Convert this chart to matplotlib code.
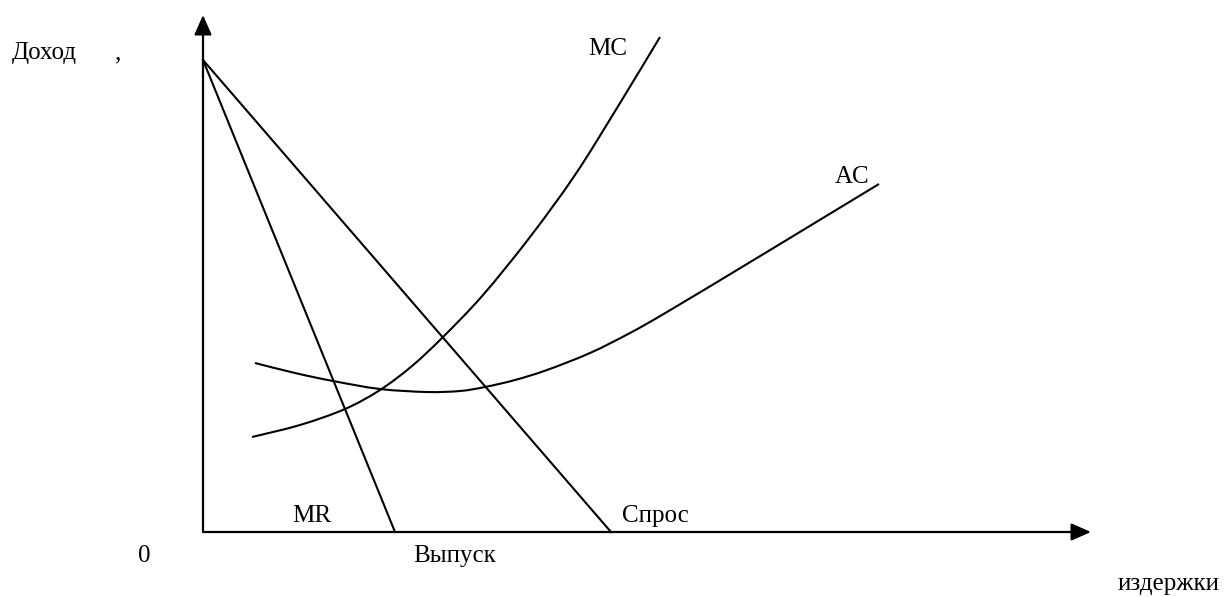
import matplotlib
matplotlib.use('Agg')
import matplotlib.pyplot as plt
import numpy as np
from matplotlib.path import Path
from matplotlib.patches import PathPatch

plt.rcParams['font.family'] = ['Liberation Serif', 'DejaVu Serif']

# points, origin at the axes corner (pixels)
demand_x = [0, 408]
demand_y = [472, 0]
mr_x = [0, 192]
mr_y = [472, 0]
mc_x = [49, 97, 142, 177, 209, 240, 280, 327, 372, 414, 457]
mc_y = [95, 107, 123, 142, 166, 195, 237, 295, 357, 424, 495]
ac_x = [52, 92, 130, 177, 224, 257, 282, 312, 344, 387, 427, 464, 544, 610, 676]
ac_y = [169, 159, 151, 143, 140, 141, 145, 152, 162, 179, 199, 220, 268, 308, 348]


def smooth_path(xs, ys):
    # Catmull-Rom through the read points, drawn as cubic Bezier segments
    p = np.column_stack([xs, ys]).astype(float)
    p = np.vstack([p[0], p, p[-1]])
    verts = [p[1]]
    codes = [Path.MOVETO]
    for i in range(1, len(p) - 2):
        c1 = p[i] + (p[i + 1] - p[i - 1]) / 6
        c2 = p[i + 1] - (p[i + 2] - p[i]) / 6
        verts += [c1, c2, p[i + 1]]
        codes += [Path.CURVE4] * 3
    return Path(verts, codes)


fig = plt.figure(figsize=(12.26, 5.97), dpi=100)
ax = fig.add_axes([0, 0, 1, 1])
ax.set_xlim(-203, 1023)
ax.set_ylim(-65, 532)
ax.axis('off')

lw = 1.5
ax.plot(demand_x, demand_y, color='black', lw=lw)
ax.plot(mr_x, mr_y, color='black', lw=lw)
ax.add_patch(PathPatch(smooth_path(mc_x, mc_y), fc='none', ec='black', lw=lw))
ax.add_patch(PathPatch(smooth_path(ac_x, ac_y), fc='none', ec='black', lw=lw))

# axes with arrow heads
arr = dict(arrowstyle='-|>,head_length=0.75,head_width=0.33', color='black',
           lw=1.6, shrinkA=0, shrinkB=0, mutation_scale=16)
ax.annotate('', xy=(888, 0), xytext=(0, 0), arrowprops=arr)
ax.annotate('', xy=(0, 517), xytext=(0, 0), arrowprops=arr)

fs = 18
ax.text(-191, 532 - 59, 'Доход', fontsize=fs, va='baseline', ha='left')
ax.text(-88, 532 - 59, ',', fontsize=fs, va='baseline', ha='left')
ax.text(385, 532 - 55, 'MC', fontsize=fs, va='baseline', ha='left')
ax.text(632, 532 - 183, 'AC', fontsize=fs, va='baseline', ha='left')
ax.text(89, 532 - 522, 'MR', fontsize=fs, va='baseline', ha='left')
ax.text(419, 532 - 522, 'Спрос', fontsize=fs, va='baseline', ha='left')
ax.text(-65, 532 - 562, '0', fontsize=fs, va='baseline', ha='left')
ax.text(210, 532 - 562, 'Выпуск', fontsize=fs, va='baseline', ha='left')
ax.text(915, 532 - 590, 'издержки', fontsize=fs, va='baseline', ha='left')

fig.savefig('out.png', dpi=100)
